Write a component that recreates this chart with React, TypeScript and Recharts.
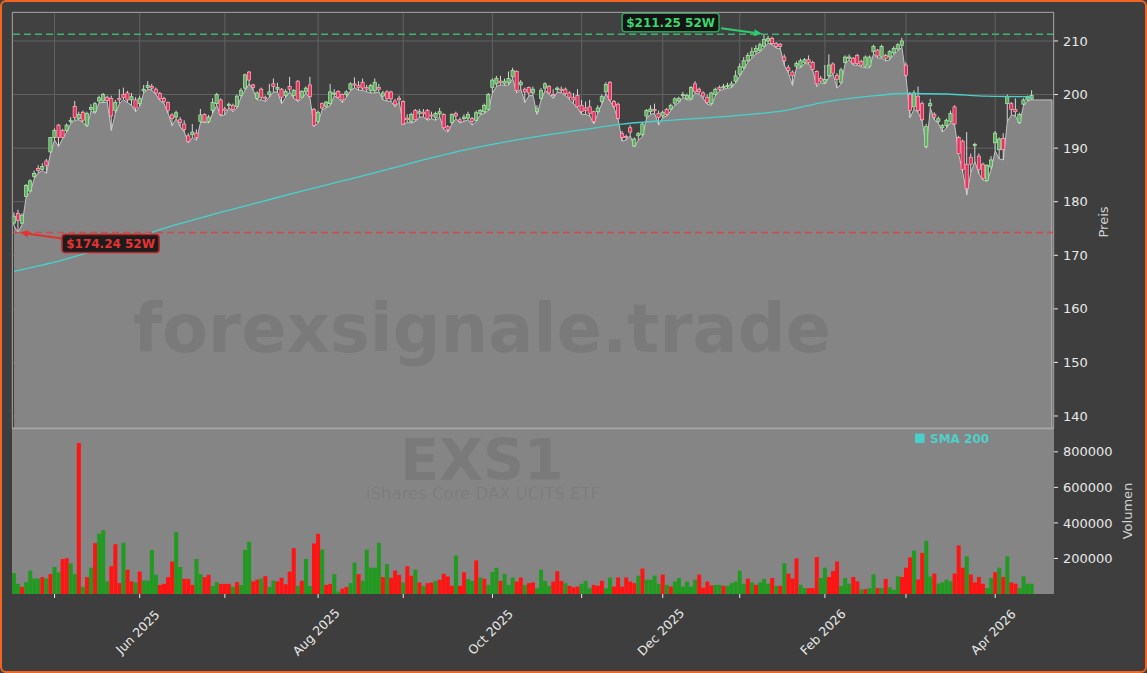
import React from "react";
import {
  ComposedChart,
  Area,
  Line,
  Bar,
  Cell,
  XAxis,
  YAxis,
  ReferenceLine,
  ReferenceDot,
  CartesianGrid,
} from "recharts";

// ---- data (one entry per trading day) ----
const opens = [
  176.0, 177.8, 176.0, 181.0, 182.0, 184.7, 186.2, 186.0, 187.6, 189.3,
  192.0, 194.3, 193.3, 193.3, 195.0, 197.8, 195.5, 196.7, 194.3, 197.2,
  196.8, 198.8, 198.8, 199.5, 199.3, 197.0, 199.3, 200.0, 200.3, 199.0,
  199.0, 198.3, 200.7, 201.3, 201.5, 201.0, 200.2, 199.3, 198.5, 196.2,
  195.8, 195.3, 194.5, 192.3, 192.5, 192.8, 195.0, 196.3, 195.0, 197.0,
  198.3, 199.0, 197.3, 198.0, 198.0, 197.8, 199.8, 201.2, 204.2, 201.8,
  199.3, 201.0, 199.5, 200.0, 202.0, 201.0, 201.0, 199.8, 201.5, 199.8,
  202.5, 199.5, 200.5, 201.8, 197.2, 195.0, 198.3, 197.8, 198.3, 200.2,
  200.6, 200.0, 200.0, 201.0, 202.0, 201.7, 202.3, 201.3, 200.7, 200.7,
  201.3, 199.7, 200.5, 200.5, 198.8, 199.3, 198.7, 195.6, 195.0, 197.0,
  196.5, 196.7, 197.0, 196.2, 195.7, 196.4, 196.3, 194.0, 194.8, 196.5,
  195.3, 195.5, 195.6, 195.5, 195.2, 196.5, 196.8, 197.2, 201.3, 202.0,
  202.5, 202.0, 202.2, 203.3, 204.3, 201.8, 201.0, 201.3, 200.3, 196.8,
  199.3, 201.2, 201.5, 200.0, 201.0, 201.0, 201.0, 200.3, 199.5, 199.8,
  198.0, 197.5, 197.7, 196.8, 196.8, 198.7, 200.5, 202.3, 198.7, 198.2,
  192.7, 192.2, 193.8, 190.4, 192.3, 192.5, 196.0, 196.8, 197.2, 196.5,
  196.0, 197.2, 197.3, 198.4, 198.8, 199.8, 199.2, 199.2, 202.0, 201.0,
  200.3, 199.5, 198.3, 200.0, 201.3, 201.3, 201.5, 201.6, 202.5, 203.8,
  205.0, 206.3, 207.3, 208.0, 208.2, 209.0, 210.0, 210.5, 209.5, 209.4,
  207.0, 205.0, 204.2, 205.3, 205.3, 206.0, 206.5, 206.0, 204.3, 203.0,
  202.3, 203.5, 205.7, 203.6, 202.3, 206.0, 206.8, 206.8, 207.3, 206.2,
  205.3, 205.3, 208.0, 208.3, 207.0, 207.3, 207.0, 207.8, 208.5, 209.2,
  205.5, 200.0, 197.7, 199.7, 198.3, 190.3, 197.9, 196.3, 195.0, 193.8,
  194.2, 195.0, 197.7, 192.0, 191.3, 187.0, 188.3, 190.5, 188.5, 187.0,
  184.0, 186.5, 191.0, 189.7, 191.8, 198.3, 198.3, 197.2, 194.8, 198.2,
  199.0, 199.2,
];

const highs = [
  178.0, 178.5, 177.8, 183.3, 184.2, 185.8, 186.8, 187.2, 188.0, 192.0,
  193.7, 194.5, 193.6, 194.6, 195.8, 198.8, 196.8, 197.0, 196.8, 198.2,
  198.6, 199.8, 200.3, 199.8, 199.8, 199.0, 201.0, 201.3, 200.7, 200.3,
  199.5, 199.8, 201.8, 202.5, 202.0, 201.3, 200.5, 199.6, 198.7, 196.5,
  197.0, 195.8, 195.2, 192.8, 194.5, 193.5, 197.3, 196.5, 196.2, 199.3,
  200.3, 199.3, 197.7, 198.5, 198.3, 200.0, 201.2, 203.9, 204.4, 202.0,
  200.6, 201.3, 199.8, 202.0, 203.0, 202.2, 201.2, 201.0, 203.3, 201.0,
  202.7, 200.8, 201.5, 203.3, 197.5, 197.0, 198.5, 198.8, 202.0, 201.0,
  200.8, 200.2, 200.8, 202.3, 203.2, 202.5, 203.0, 201.8, 202.0, 203.0,
  202.0, 200.7, 200.8, 200.7, 199.2, 199.8, 198.9, 196.3, 196.6, 197.3,
  197.3, 197.3, 197.3, 196.8, 196.8, 197.5, 196.5, 194.3, 196.5, 196.8,
  195.7, 196.3, 196.8, 195.8, 197.0, 197.3, 198.3, 200.3, 203.0, 203.5,
  203.5, 203.0, 204.3, 205.0, 204.5, 202.7, 201.3, 201.5, 201.5, 198.0,
  201.2, 202.3, 201.8, 201.0, 201.5, 201.5, 201.3, 200.6, 200.3, 201.0,
  199.0, 198.7, 199.0, 197.0, 198.0, 200.0, 202.3, 202.5, 199.0, 198.5,
  193.2, 192.5, 194.3, 192.0, 193.0, 194.8, 197.3, 198.0, 198.3, 197.0,
  197.0, 197.5, 198.3, 199.5, 199.6, 200.5, 200.2, 201.6, 202.5, 201.3,
  200.6, 200.0, 200.5, 201.3, 201.7, 202.0, 202.2, 202.5, 204.5, 205.8,
  207.0, 207.8, 208.8, 209.2, 209.7, 211.25, 211.0, 210.8, 209.8, 209.6,
  207.5, 205.5, 204.5, 206.2, 206.7, 206.8, 207.3, 206.3, 204.5, 203.5,
  205.5, 207.5, 206.0, 204.0, 205.0, 207.3, 207.5, 207.0, 207.6, 206.5,
  207.3, 207.3, 209.3, 208.5, 209.3, 207.6, 208.3, 209.0, 209.6, 210.6,
  206.0, 200.5, 200.8, 201.5, 198.7, 194.5, 199.2, 196.7, 195.9, 194.5,
  195.5, 197.0, 198.0, 192.3, 191.6, 193.0, 189.0, 191.0, 189.0, 187.3,
  187.0, 188.5, 193.2, 192.0, 192.8, 200.0, 198.6, 199.3, 196.6, 199.3,
  199.8, 200.8,
];

const lows = [
  175.5, 174.24, 175.8, 180.9, 181.8, 184.3, 185.4, 185.8, 185.3, 189.0,
  191.5, 190.3, 191.8, 193.0, 194.6, 195.2, 195.3, 194.8, 194.0, 196.9,
  196.5, 198.5, 198.5, 198.6, 193.3, 196.5, 198.3, 199.0, 198.5, 198.0,
  196.8, 197.8, 200.3, 201.0, 200.8, 200.0, 198.9, 198.3, 196.5, 194.2,
  195.5, 194.0, 193.0, 191.0, 192.0, 191.5, 194.8, 194.8, 194.7, 196.5,
  198.0, 196.0, 196.2, 197.5, 196.8, 197.5, 199.5, 200.8, 202.0, 200.8,
  199.0, 199.0, 198.7, 199.5, 200.5, 200.5, 198.3, 199.5, 200.5, 199.3,
  198.7, 199.3, 200.3, 199.3, 194.0, 194.7, 197.2, 197.5, 198.0, 199.8,
  199.3, 198.5, 199.5, 200.7, 201.3, 200.8, 200.8, 200.5, 200.3, 200.3,
  200.5, 199.0, 198.8, 198.7, 197.7, 198.6, 194.4, 194.8, 194.7, 195.0,
  195.8, 195.8, 195.2, 195.5, 195.2, 195.8, 193.5, 193.0, 194.5, 195.5,
  194.7, 195.0, 195.3, 194.3, 195.0, 196.2, 196.5, 197.0, 200.3, 201.5,
  201.8, 201.7, 201.8, 203.0, 200.3, 201.0, 198.5, 199.8, 199.8, 196.3,
  199.0, 200.8, 200.0, 199.3, 200.5, 200.3, 199.8, 199.0, 198.3, 197.5,
  196.3, 196.3, 196.0, 194.5, 196.5, 198.3, 200.2, 198.8, 197.5, 195.3,
  191.3, 191.5, 192.3, 190.2, 191.5, 192.2, 195.5, 196.3, 196.5, 194.3,
  195.7, 196.0, 197.0, 198.0, 198.5, 199.5, 199.0, 199.0, 200.3, 200.0,
  199.2, 198.2, 198.0, 199.8, 200.7, 201.0, 201.2, 201.3, 202.2, 203.5,
  204.7, 206.0, 206.8, 207.6, 208.0, 208.8, 209.6, 209.3, 208.7, 208.5,
  205.5, 204.0, 201.7, 205.0, 205.0, 205.8, 205.7, 204.5, 201.5, 202.2,
  202.0, 203.3, 203.8, 201.2, 202.0, 205.8, 206.5, 205.5, 205.5, 205.2,
  205.0, 205.0, 207.6, 206.8, 206.8, 206.3, 206.5, 207.5, 208.2, 208.8,
  203.3, 195.7, 197.3, 196.7, 195.0, 190.0, 197.5, 195.3, 194.6, 193.0,
  193.8, 194.8, 194.3, 188.8, 185.5, 181.3, 185.5, 187.5, 185.2, 184.0,
  183.8, 186.0, 189.5, 188.0, 187.8, 195.0, 196.2, 196.0, 194.5, 198.0,
  198.8, 199.0,
];

const closes = [
  177.3, 176.5, 177.5, 183.0, 183.9, 185.3, 185.8, 186.6, 186.8, 192.0,
  193.3, 192.0, 192.0, 194.3, 195.2, 195.7, 196.3, 195.2, 196.5, 197.6,
  198.3, 199.4, 200.0, 198.9, 196.0, 198.5, 199.0, 199.5, 199.0, 199.6,
  197.5, 199.3, 201.0, 201.7, 201.2, 200.3, 199.2, 198.7, 197.0, 195.5,
  196.6, 194.8, 193.5, 191.2, 193.0, 192.0, 196.2, 195.0, 195.8, 198.5,
  200.0, 196.3, 197.0, 198.2, 197.2, 199.7, 200.8, 203.7, 202.7, 201.3,
  200.3, 199.5, 199.2, 200.5, 201.5, 201.3, 199.5, 200.6, 201.0, 200.8,
  199.0, 200.6, 201.2, 199.6, 194.2, 196.7, 197.5, 198.6, 200.5, 200.3,
  199.5, 199.0, 200.5, 202.0, 201.8, 201.3, 201.2, 201.0, 201.7, 202.3,
  201.0, 200.3, 199.2, 199.2, 198.1, 199.0, 194.5, 195.3, 196.3, 195.3,
  196.8, 196.4, 195.5, 196.0, 196.5, 196.8, 193.8, 193.5, 196.3, 196.0,
  195.0, 195.8, 196.3, 195.0, 196.6, 197.0, 198.0, 200.0, 202.7, 203.0,
  202.2, 202.5, 203.0, 204.5, 200.8, 202.3, 200.5, 200.3, 201.0, 197.3,
  200.8, 202.0, 200.3, 199.8, 201.2, 200.8, 200.2, 199.5, 199.0, 197.7,
  196.8, 197.0, 196.5, 195.0, 197.5, 199.6, 201.9, 199.0, 197.8, 195.5,
  192.0, 192.0, 193.0, 191.7, 192.7, 194.5, 197.0, 197.3, 197.0, 195.7,
  196.7, 196.3, 198.0, 199.2, 199.3, 200.0, 199.8, 201.3, 200.5, 200.5,
  199.7, 198.5, 200.3, 201.0, 201.0, 201.5, 201.7, 202.0, 203.5, 205.2,
  206.3, 207.3, 208.0, 208.6, 209.3, 210.3, 210.5, 209.5, 209.0, 209.0,
  206.3, 204.5, 203.5, 205.8, 206.3, 206.5, 206.0, 204.7, 202.0, 202.5,
  202.8, 205.5, 204.0, 202.8, 204.6, 207.0, 207.0, 205.8, 205.8, 205.5,
  207.0, 207.0, 209.0, 207.2, 209.0, 206.8, 208.0, 208.6, 209.3, 210.0,
  203.6, 197.0, 200.3, 197.0, 195.3, 194.0, 198.3, 195.8, 195.5, 194.2,
  195.2, 196.5, 194.5, 189.0, 186.0, 182.5, 187.0, 190.7, 186.0, 184.3,
  186.8, 187.8, 192.8, 191.7, 189.7, 199.6, 197.2, 196.8, 196.3, 199.0,
  199.5, 199.8,
];

const volumes = [
  118000, 57000, 40000, 67000, 132000, 87000, 87000, 95000, 87000, 112000,
  152000, 122000, 197000, 201000, 172000, 112000, 849000, 40000, 95000, 148000,
  286000, 339000, 359000, 71000, 156000, 280000, 61000, 288000, 136000, 71000,
  65000, 126000, 77000, 75000, 248000, 108000, 51000, 57000, 95000, 183000,
  349000, 152000, 85000, 85000, 51000, 197000, 112000, 95000, 108000, 45000,
  67000, 57000, 57000, 57000, 41000, 67000, 51000, 248000, 294000, 71000,
  81000, 87000, 101000, 40000, 75000, 71000, 91000, 55000, 126000, 258000,
  47000, 75000, 197000, 45000, 284000, 339000, 250000, 51000, 57000, 112000,
  14000, 30000, 40000, 61000, 177000, 112000, 75000, 250000, 148000, 148000,
  288000, 95000, 168000, 91000, 132000, 108000, 65000, 156000, 103000, 137000,
  65000, 46000, 61000, 65000, 74000, 80000, 114000, 99000, 46000, 217000,
  46000, 122000, 84000, 74000, 189000, 93000, 86000, 51000, 124000, 147000,
  74000, 114000, 51000, 93000, 70000, 93000, 51000, 61000, 65000, 32000,
  137000, 74000, 46000, 70000, 128000, 74000, 61000, 46000, 38000, 42000,
  57000, 74000, 32000, 51000, 46000, 74000, 32000, 93000, 42000, 93000,
  42000, 93000, 70000, 61000, 103000, 143000, 80000, 80000, 103000, 57000,
  109000, 51000, 42000, 70000, 90000, 42000, 70000, 42000, 80000, 109000,
  36000, 70000, 48000, 51000, 51000, 46000, 46000, 61000, 70000, 131000,
  57000, 86000, 65000, 52000, 65000, 85000, 58000, 90000, 46000, 46000,
  173000, 115000, 87000, 200000, 52000, 33000, 33000, 33000, 208000, 90000,
  148000, 96000, 129000, 183000, 46000, 90000, 58000, 96000, 71000, 27000,
  27000, 33000, 110000, 33000, 33000, 85000, 38000, 23000, 100000, 96000,
  148000, 206000, 244000, 81000, 231000, 300000, 99000, 115000, 58000, 65000,
  81000, 71000, 115000, 273000, 148000, 212000, 110000, 65000, 96000, 58000,
  33000, 90000, 123000, 148000, 96000, 212000, 65000, 58000, 33000, 100000,
  58000, 58000,
];

// G = green volume bar, R = red volume bar
const volumeSides =
  "GGRGGGGRGR" + "GGRRGGRGRG" + "RGGGRRRGRR" + "GRGGGGRRRR" + "GGRRRGGRRG" +
  "GRRRGRGGGR" + "RGRGGRRRRR" + "GRGGRRGRRG" + "GRRGGRGGGG" + "GRGRRRGRRG" +
  "RGRRGRRRRG" + "RRGGRGRGGG" + "RGGGRRGRRG" + "GGGRRRGRRR" + "GGGRRRGGRR" +
  "RRRRGRGGGG" + "RGRGGGGGGR" + "RRRGGRGGGG" + "GRGRGGGRGR" + "GRRRGGRRRG" +
  "GRRRGGGRRG" + "RGGRGRGGGR" + "RRGRRGGRGG" + "GGRRRGRRRR" + "GGRGRGRRGG" +
  "GG";

// SMA 200, read at every tenth day
const smaPoints: [number, number][] = [
  [0, 167.0], [10, 168.7], [20, 170.9], [30, 173.3], [40, 175.7], [50, 177.8],
  [60, 179.8], [70, 181.8], [80, 183.7], [90, 185.6], [100, 187.6], [110, 189.5],
  [120, 191.0], [130, 192.3], [140, 193.4], [150, 194.5], [160, 195.1], [170, 195.6],
  [180, 196.2], [190, 197.0], [200, 198.6], [210, 199.6], [220, 200.2], [230, 200.1],
  [240, 199.7], [251, 199.6],
];

// shaded low area continues a few days past the last candle
const areaTail = [199.0, 199.0, 199.0, 199.0, 199.0];

const monthTicks = [10, 31, 52, 75, 96, 118, 140, 160, 179, 200, 220, 242];
const monthLabels = ["", "Jun 2025", "", "Aug 2025", "", "Oct 2025", "", "Dec 2025", "", "Feb 2026", "", "Apr 2026"];
const priceTicks = [140, 150, 160, 170, 180, 190, 200, 210];
const volumeTicks = [200000, 400000, 600000, 800000];

const HIGH_52W = 211.25;
const LOW_52W = 174.24;
const HIGH_IDX = 185;
const LOW_IDX = 1;

const PRICE_MIN = 137.76;
const PRICE_MAX = 215.41;
const VOL_MAX = 934000;

const W = 1147;
const H = 673;
const FONT = "DejaVu Sans";

// ---- build rows ----
const smaMap = new Map(smaPoints);
const priceData: any[] = [];
const volumeData: any[] = [];
for (let i = 0; i < closes.length + areaTail.length; i++) {
  if (i < closes.length) {
    priceData.push({
      i,
      o: opens[i],
      h: highs[i],
      l: lows[i],
      c: closes[i],
      range: [lows[i], highs[i]],
      low: lows[i],
      sma: smaMap.has(i) ? smaMap.get(i) : null,
    });
    volumeData.push({ i, v: volumes[i], side: volumeSides[i] });
  } else {
    priceData.push({ i, low: areaTail[i - closes.length] });
    volumeData.push({ i, v: null });
  }
}
const lastIdx = priceData.length - 1;

const Candle = (props: any) => {
  const { x, y, width, height, payload } = props;
  if (!payload || payload.o == null) return null;
  const { o, h, l, c } = payload;
  const top = Math.min(y, y + height);
  const bottom = Math.max(y, y + height);
  const span = h - l || 1;
  const py = (v: number) => top + ((h - v) / span) * (bottom - top);
  const cx = x + width / 2;
  const up = c >= o;
  const bTop = py(Math.max(o, c));
  const bBot = py(Math.min(o, c));
  return (
    <g>
      <line x1={cx} x2={cx} y1={top} y2={bottom} stroke="#d6d6d6" strokeWidth={1} />
      <rect
        x={cx - 1.6}
        y={bTop}
        width={3.2}
        height={Math.max(bBot - bTop, 1.2)}
        fill={up ? "#6aa86a" : "#e8335f"}
        stroke={up ? "#a8f0a8" : "#ffb0c0"}
        strokeWidth={0.7}
      />
    </g>
  );
};

const Arrow = ({ x1, y1, x2, y2, color }: any) => {
  const a = Math.atan2(y2 - y1, x2 - x1);
  const L = 8;
  const Wd = 3.5;
  const bx = x2 - L * Math.cos(a);
  const by = y2 - L * Math.sin(a);
  const px = -Math.sin(a) * Wd;
  const py = Math.cos(a) * Wd;
  return (
    <g>
      <line x1={x1} y1={y1} x2={bx} y2={by} stroke={color} strokeWidth={2} />
      <polygon points={`${x2},${y2} ${bx + px},${by + py} ${bx - px},${by - py}`} fill={color} />
    </g>
  );
};

const HighNote = (p: any) => {
  const { cx, cy } = p;
  const bx = cx - 142;
  const by = cy - 21;
  return (
    <g>
      <Arrow x1={cx - 43} y1={cy - 6} x2={cx - 2} y2={cy - 0.5} color="#2ecc71" />
      <rect x={bx} y={by} width={97} height={18.5} rx={3} fill="#141414" stroke="#2e9d5a" strokeWidth={1.6} />
      <text x={bx + 48.5} y={by + 13.5} textAnchor="middle" fill="#3ad66f" fontSize={12} fontWeight="bold" fontFamily={FONT}>
        {`$${HIGH_52W.toFixed(2)} 52W`}
      </text>
    </g>
  );
};

const LowNote = (p: any) => {
  const { cx, cy } = p;
  const bx = cx + 44;
  const by = cy + 2;
  return (
    <g>
      <Arrow x1={cx + 44} y1={cy + 6} x2={cx + 2} y2={cy} color="#e53030" />
      <rect x={bx} y={by} width={97} height={18} rx={3} fill="#1c1c1c" stroke="#b82525" strokeWidth={1.6} />
      <text x={bx + 48.5} y={by + 13.5} textAnchor="middle" fill="#e83232" fontSize={12} fontWeight="bold" fontFamily={FONT}>
        {`$${LOW_52W.toFixed(2)} 52W`}
      </text>
    </g>
  );
};

const MonthTick = (props: any) => {
  const { x, y, payload } = props;
  const k = monthTicks.indexOf(payload.value);
  const label = k >= 0 ? monthLabels[k] : "";
  if (!label) return null;
  const cx = x - 2;
  const cy = y + 32;
  return (
    <text
      x={cx}
      y={cy}
      transform={`rotate(-45 ${cx} ${cy})`}
      textAnchor="middle"
      dominantBaseline="central"
      fill="#e8e8e8"
      fontSize={12.5}
      fontFamily={FONT}
    >
      {label}
    </text>
  );
};

const tickStyle = { fill: "#e8e8e8", fontSize: 13, fontFamily: FONT };

export default function App() {
  return (
    <div style={{ width: W, height: H, position: "relative", background: "#3e3e3e", overflow: "hidden" }}>
      <style>{`body{margin:0;background:#ffffff;}`}</style>

      {/* price panel */}
      <div style={{ position: "absolute", left: 0, top: 0 }}>
        <ComposedChart width={W} height={440} data={priceData} margin={{ top: 12, right: 0, bottom: 12, left: 12 }}>
          {/* grid sits under the shaded area */}
          <CartesianGrid fill="#414141" stroke="#626262" strokeWidth={1} />
          <XAxis dataKey="i" type="category" hide ticks={monthTicks} interval={0} />
          <YAxis
            orientation="right"
            width={93}
            domain={[PRICE_MIN, PRICE_MAX]}
            allowDataOverflow
            ticks={priceTicks}
            tick={tickStyle}
            tickSize={4}
            tickMargin={5}
            tickLine={{ stroke: "#e8e8e8" }}
            axisLine={false}
          />
          <Area
            dataKey="low"
            type="linear"
            stroke="#c4c4c4"
            strokeWidth={1}
            fill="#858585"
            fillOpacity={1}
            baseValue={PRICE_MIN}
            isAnimationActive={false}
            dot={false}
            activeDot={false}
          />
          <ReferenceLine
            segment={[
              { x: lastIdx, y: areaTail[areaTail.length - 1] },
              { x: lastIdx, y: PRICE_MIN },
            ]}
            stroke="#c4c4c4"
            strokeWidth={1}
          />
          <Line
            dataKey="sma"
            type="monotone"
            stroke="#48d1cc"
            strokeWidth={1.3}
            dot={false}
            activeDot={false}
            connectNulls
            isAnimationActive={false}
          />
          <Bar dataKey="range" shape={Candle} isAnimationActive={false} />
          <ReferenceLine y={HIGH_52W} stroke="#3cb371" strokeWidth={1.6} strokeDasharray="7 4" />
          <ReferenceLine y={LOW_52W} stroke="#d24a4a" strokeWidth={1.6} strokeDasharray="7 4" />
          <ReferenceDot x={HIGH_IDX} y={HIGH_52W} r={0} shape={HighNote} ifOverflow="visible" />
          <ReferenceDot x={LOW_IDX} y={LOW_52W} r={0} shape={LowNote} ifOverflow="visible" />
        </ComposedChart>
      </div>

      {/* volume panel */}
      <div style={{ position: "absolute", left: 0, top: 428 }}>
        <ComposedChart
          width={W}
          height={245}
          data={volumeData}
          margin={{ top: 0, right: 0, bottom: 0, left: 12 }}
          barCategoryGap={0}
        >
          <CartesianGrid fill="#858585" horizontal={false} vertical={false} />
          <XAxis
            dataKey="i"
            type="category"
            ticks={monthTicks}
            interval={0}
            height={79}
            tick={MonthTick}
            tickSize={4}
            tickMargin={2}
            tickLine={{ stroke: "#e8e8e8" }}
            axisLine={false}
          />
          <YAxis
            orientation="right"
            width={93}
            domain={[0, VOL_MAX]}
            allowDataOverflow
            ticks={volumeTicks}
            tick={tickStyle}
            tickSize={4}
            tickMargin={5}
            tickLine={{ stroke: "#e8e8e8" }}
            axisLine={false}
          />
          <Bar dataKey="v" isAnimationActive={false}>
            {volumeData.map((d) => (
              <Cell key={d.i} fill={d.side === "G" ? "#229a22" : "#ff1414"} />
            ))}
          </Bar>
        </ComposedChart>
      </div>

      {/* frames, titles, watermark, legend */}
      <svg
        width={W}
        height={H}
        style={{ position: "absolute", left: 0, top: 0, pointerEvents: "none" }}
        fontFamily={FONT}
      >
        <rect x={12.5} y={12.5} width={1041} height={415.5} fill="none" stroke="#959595" strokeWidth={1} />
        <line x1={12} x2={1054} y1={428.5} y2={428.5} stroke="#a8a8a8" strokeWidth={1.5} />

        <text x={482} y={352} textAnchor="middle" fontSize={67} fontWeight="bold" fill="rgba(0,0,0,0.08)">
          forexsignale.trade
        </text>
        <text x={482} y={480} textAnchor="middle" fontSize={57} fontWeight="bold" fill="rgba(0,0,0,0.08)">
          EXS1
        </text>
        <text x={483} y={499} textAnchor="middle" fontSize={16.5} fill="rgba(0,0,0,0.07)">
          iShares Core DAX UCITS ETF
        </text>

        <rect x={915} y={433.5} width={9.5} height={9.5} fill="#48d1cc" />
        <text x={930} y={442.5} fontSize={12} fontWeight="bold" fill="#4fcfc9">
          SMA 200
        </text>

        <text x={1108} y={222} textAnchor="middle" fontSize={13} fill="#d2d2d2" transform="rotate(-90 1108 222)">
          Preis
        </text>
        <text x={1132} y={511} textAnchor="middle" fontSize={13} fill="#d2d2d2" transform="rotate(-90 1132 511)">
          Volumen
        </text>
      </svg>

      <div
        style={{
          position: "absolute",
          inset: 0,
          border: "2.5px solid #f26522",
          borderRadius: 6,
          pointerEvents: "none",
        }}
      />
    </div>
  );
}
